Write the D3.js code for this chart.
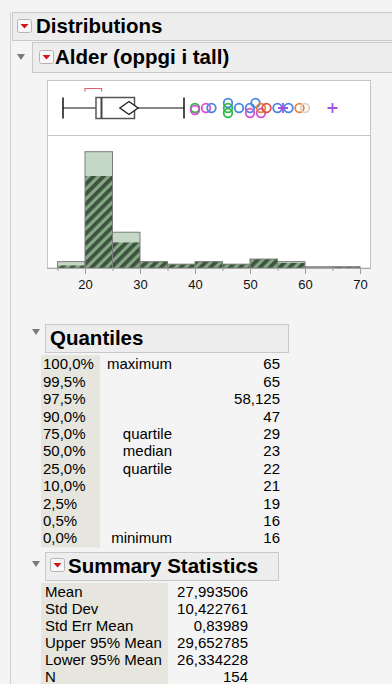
<!DOCTYPE html>
<html>
<head>
<meta charset="utf-8">
<script src="https://cdn.jsdelivr.net/npm/d3@7"></script>
<style>
  body { margin: 0; background: #f4f4f4; }
  svg { display: block; font-family: 'Liberation Sans', Arial, sans-serif; }
</style>
</head>
<body>
<div id="report"></div>
<script>
// histogram bins (start of each 5-year bin), all rows and the selected/hatched rows
const binStarts = [15, 20, 25, 30, 35, 40, 45, 50, 55, 60, 65]
const binCounts = [5, 91, 28, 5, 3, 5, 3, 7, 5, 1, 1]
const binSelected = [2, 72, 20, 5, 3, 5, 3, 7, 4, 0, 1]
const tickLabels = [20, 30, 40, 50, 60, 70]
const minorTicks = [15, 25, 35, 45, 55, 65]

// quantiles table
const quantileLevels = ['100,0%', '99,5%', '97,5%', '90,0%', '75,0%', '50,0%', '25,0%', '10,0%', '2,5%', '0,5%', '0,0%']
const quantileNames = ['maximum', '', '', '', 'quartile', 'median', 'quartile', '', '', '', 'minimum']
const quantileValues = [65, 65, 58.125, 47, 29, 23, 22, 21, 19, 16, 16]

// summary statistics table
const summaryNames = ['Mean', 'Std Dev', 'Std Err Mean', 'Upper 95% Mean', 'Lower 95% Mean', 'N']
const summaryValues = [27.993506, 10.422761, 0.83989, 29.652785, 26.334228, 154]

// box plot extras
const upperWhisker = 38
const shortestHalf = [20, 23]

// outlier points beyond the upper whisker, with their row colour group
const outlierValues = [40, 40, 42, 43, 46, 46, 46, 48, 50, 50, 51, 52, 52, 53, 55, 56, 57, 59, 60, 65]
const outlierGroups = ['green', 'pink', 'pink', 'blue', 'blue', 'green', 'green', 'blue', 'blue', 'pink',
  'blue', 'pink', 'orange', 'red', 'blue', 'purple', 'blue', 'orange', 'beige', 'purple']
const outlierStack = [0, 0.4, 0, 0, -1, 0, 1, 0, 0, 1, -1, 1, 0, 0, 0, 0, 0, 0, 0, 0]

const fmt = v => String(v).replace('.', ',')

const W = 392
const H = 684

const svg = d3.select('#report').append('svg')
  .attr('width', W)
  .attr('height', H)

svg.append('rect').attr('width', W).attr('height', H).attr('fill', '#f4f4f4')

const defs = svg.append('defs')
const hatch = defs.append('pattern')
  .attr('id', 'hatch')
  .attr('patternUnits', 'userSpaceOnUse')
  .attr('width', 7)
  .attr('height', 7)
  .attr('patternTransform', 'rotate(45)')
hatch.append('rect').attr('width', 7).attr('height', 7).attr('fill', '#84aa84')
hatch.append('rect').attr('width', 3.8).attr('height', 7).attr('fill', '#3f5241')

function redButton(x, y) {
  svg.append('rect')
    .attr('x', x + 0.5).attr('y', y + 0.5)
    .attr('width', 14).attr('height', 13)
    .attr('rx', 2)
    .attr('fill', '#f8f8f8')
    .attr('stroke', '#b4b4b4')
  svg.append('path')
    .attr('d', `M${x + 3.5},${y + 5} L${x + 11.5},${y + 5} L${x + 7.5},${y + 9.5} Z`)
    .attr('fill', '#d0161b')
}

function grayTriangle(x, y) {
  svg.append('path')
    .attr('d', `M${x},${y} L${x + 8},${y} L${x + 4},${y + 6} Z`)
    .attr('fill', '#7a7a7a')
}

function header(x0, x1, y0, y1, label, tx) {
  svg.append('rect')
    .attr('x', x0 + 0.5).attr('y', y0 + 0.5)
    .attr('width', x1 - x0).attr('height', y1 - y0)
    .attr('fill', '#ededed')
    .attr('stroke', '#c9c9c9')
  svg.append('text')
    .attr('x', tx)
    .attr('y', (y0 + y1) / 2 + 7.4)
    .attr('font-size', 20.5)
    .attr('font-weight', 'bold')
    .attr('fill', '#000')
    .text(label)
}

// outline frame on the left
svg.append('line')
  .attr('x1', 10.5).attr('x2', 10.5)
  .attr('y1', 12).attr('y2', H)
  .attr('stroke', '#cfcfcf')

header(12, 400, 12, 40, 'Distributions', 36)
redButton(17, 19)

header(32, 400, 42, 72, 'Alder (oppgi i tall)', 55)
grayTriangle(17, 54)
redButton(39, 50)

// plot panel
const x = d3.scaleLinear().domain([15, 70]).range([57.5, 360])
const y = d3.scaleLinear().domain([0, 91]).range([268, 151.7])

svg.append('rect')
  .attr('x', 47.5).attr('y', 80.5)
  .attr('width', 323).attr('height', 187.5)
  .attr('fill', '#fff')
  .attr('stroke', '#c4c4c4')
svg.append('line')
  .attr('x1', 47).attr('x2', 371)
  .attr('y1', 135.5).attr('y2', 135.5)
  .attr('stroke', '#c4c4c4')

// histogram
const bins = binStarts.map((s, i) => ({ start: s, count: binCounts[i], sel: binSelected[i] }))
const bars = svg.append('g')

bars.selectAll('.all')
  .data(bins)
  .enter()
  .append('rect')
  .attr('class', 'all')
  .attr('x', d => x(d.start))
  .attr('y', d => y(d.count))
  .attr('width', d => x(d.start + 5) - x(d.start))
  .attr('height', d => y(0) - y(d.count))
  .attr('fill', '#c5d7c5')

bars.selectAll('.sel')
  .data(bins)
  .enter()
  .append('rect')
  .attr('class', 'sel')
  .attr('x', d => x(d.start))
  .attr('y', d => y(d.sel))
  .attr('width', d => x(d.start + 5) - x(d.start))
  .attr('height', d => y(0) - y(d.sel))
  .attr('fill', 'url(#hatch)')

bars.selectAll('.outline')
  .data(bins)
  .enter()
  .append('rect')
  .attr('class', 'outline')
  .attr('x', d => x(d.start))
  .attr('y', d => y(d.count))
  .attr('width', d => x(d.start + 5) - x(d.start))
  .attr('height', d => y(0) - y(d.count))
  .attr('fill', 'none')
  .attr('stroke', '#7c7c7c')
  .attr('stroke-width', 1)

// axis
const xAxis = d3.axisBottom(x)
  .tickValues(tickLabels)
  .tickSize(6)
  .tickPadding(6)
  .tickFormat(d3.format('d'))

const axisG = svg.append('g')
  .attr('transform', 'translate(0,268)')
  .call(xAxis)
axisG.select('.domain').remove()
axisG.selectAll('line').attr('stroke', '#9a9a9a')
axisG.selectAll('text')
  .attr('font-size', 13)
  .attr('font-family', "'Liberation Sans', Arial, sans-serif")
  .attr('fill', '#111')

const minorG = svg.append('g')
  .attr('transform', 'translate(0,268)')
  .call(d3.axisBottom(x).tickValues(minorTicks).tickSize(3).tickFormat(''))
minorG.select('.domain').remove()
minorG.selectAll('line').attr('stroke', '#9a9a9a')

svg.append('line')
  .attr('x1', 47).attr('x2', 371)
  .attr('y1', 268.5).attr('y2', 268.5)
  .attr('stroke', '#a8a8a8')

// box plot
const cy = 108
const q1 = quantileValues[6]
const med = quantileValues[5]
const q3 = quantileValues[4]
const minV = quantileValues[10]
const box = svg.append('g')

box.append('line')
  .attr('x1', x(minV)).attr('x2', x(q1))
  .attr('y1', cy).attr('y2', cy)
  .attr('stroke', '#111').attr('stroke-width', 1.2)
box.append('line')
  .attr('x1', x(q3)).attr('x2', x(upperWhisker))
  .attr('y1', cy).attr('y2', cy)
  .attr('stroke', '#111').attr('stroke-width', 1.2)
;[minV, upperWhisker].forEach(v => {
  box.append('line')
    .attr('x1', x(v)).attr('x2', x(v))
    .attr('y1', cy - 10.5).attr('y2', cy + 10.5)
    .attr('stroke', '#111').attr('stroke-width', 1.5)
})
box.append('rect')
  .attr('x', x(q1)).attr('y', cy - 10.5)
  .attr('width', x(q3) - x(q1)).attr('height', 21)
  .attr('fill', '#fff')
  .attr('stroke', '#555').attr('stroke-width', 1.5)
box.append('line')
  .attr('x1', x(med)).attr('x2', x(med))
  .attr('y1', cy - 10.5).attr('y2', cy + 10.5)
  .attr('stroke', '#444').attr('stroke-width', 2)

const mean = summaryValues[0]
const upper = summaryValues[3]
const lower = summaryValues[4]
box.append('path')
  .attr('d', `M${x(lower)},${cy} L${x(mean)},${cy - 6.5} L${x(upper)},${cy} L${x(mean)},${cy + 6.5} Z`)
  .attr('fill', '#fff')
  .attr('stroke', '#222').attr('stroke-width', 1.4)

// shortest half bracket
box.append('path')
  .attr('d', `M${x(shortestHalf[0])},91.5 L${x(shortestHalf[0])},88.5 L${x(shortestHalf[1])},88.5 L${x(shortestHalf[1])},91.5`)
  .attr('fill', 'none')
  .attr('stroke', '#e0606e').attr('stroke-width', 1.2)

// outliers
const groupColor = d3.scaleOrdinal()
  .domain(['blue', 'green', 'pink', 'orange', 'red', 'purple', 'beige'])
  .range(['#4a86e0', '#2dbb45', '#d64fd0', '#e2873c', '#e0524f', '#a452e4', '#ddd2c6'])

const outliers = outlierValues.map((v, i) => ({ v: v, g: outlierGroups[i], s: outlierStack[i] }))

box.selectAll('.pt')
  .data(outliers.filter(d => d.g !== 'purple'))
  .enter()
  .append('circle')
  .attr('class', 'pt')
  .attr('cx', d => x(d.v))
  .attr('cy', d => cy + d.s * 5)
  .attr('r', 4.3)
  .attr('fill', 'none')
  .attr('stroke', d => groupColor(d.g))
  .attr('stroke-width', 1.8)

box.selectAll('.plus')
  .data(outliers.filter(d => d.g === 'purple'))
  .enter()
  .append('path')
  .attr('class', 'plus')
  .attr('d', d => `M${x(d.v) - 5},${cy + d.s * 5} h10 M${x(d.v)},${cy + d.s * 5 - 5} v10`)
  .attr('stroke', d => groupColor(d.g))
  .attr('stroke-width', 1.8)

// quantiles
grayTriangle(32, 329)
header(45, 288, 324, 352, 'Quantiles', 50)

const qTop = 364
const qStep = 17.4
svg.append('rect')
  .attr('x', 41).attr('y', qTop - 9)
  .attr('width', 59).attr('height', qStep * 11 + 1)
  .attr('fill', '#e7e6de')

const qRows = svg.append('g')
  .attr('font-size', 15)
  .attr('fill', '#000')
quantileLevels.forEach((lvl, i) => {
  const by = qTop + i * qStep + 5.3
  qRows.append('text').attr('x', 43).attr('y', by).text(lvl)
  qRows.append('text').attr('x', 172).attr('y', by).attr('text-anchor', 'end').text(quantileNames[i])
  qRows.append('text').attr('x', 280).attr('y', by).attr('text-anchor', 'end').text(fmt(quantileValues[i]))
})

// summary statistics
grayTriangle(32, 561)
header(45, 278, 552, 580, 'Summary Statistics', 68)
redButton(50, 558)

const sTop = 591.7
const sStep = 17
svg.append('rect')
  .attr('x', 41).attr('y', sTop - 9)
  .attr('width', 127).attr('height', sStep * 6 + 2)
  .attr('fill', '#e7e6de')

const sRows = svg.append('g')
  .attr('font-size', 15)
  .attr('fill', '#000')
summaryNames.forEach((name, i) => {
  const by = sTop + i * sStep + 5.3
  sRows.append('text').attr('x', 45).attr('y', by).text(name)
  sRows.append('text').attr('x', 248).attr('y', by).attr('text-anchor', 'end').text(fmt(summaryValues[i]))
})
</script>
</body>
</html>
